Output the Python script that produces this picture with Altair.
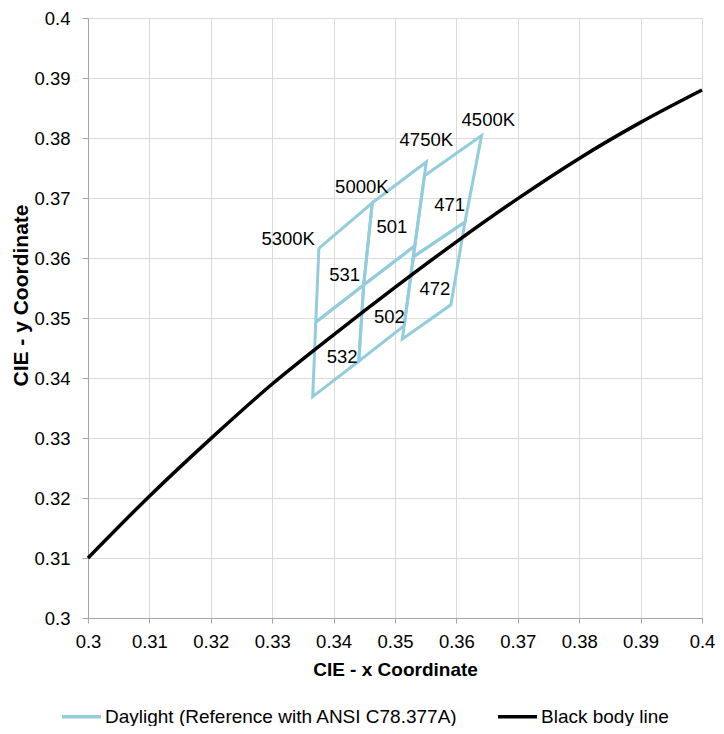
import altair as alt
import pandas as pd

FONT = "Liberation Sans"

# Axis ticks
tick_x = [0.30, 0.31, 0.32, 0.33, 0.34, 0.35, 0.36, 0.37, 0.38, 0.39, 0.40]
tick_y = [0.30, 0.31, 0.32, 0.33, 0.34, 0.35, 0.36, 0.37, 0.38, 0.39, 0.40]

# Series names
series_daylight = "Daylight (Reference with ANSI C78.377A)"
series_bb = "Black body line"

# Black body line
bb_x = [0.300, 0.310, 0.320, 0.330, 0.340, 0.350, 0.360, 0.370, 0.380, 0.390, 0.400]
bb_y = [0.3100, 0.3203, 0.3299, 0.3390, 0.3472, 0.3551, 0.3627, 0.3699, 0.3766, 0.3826, 0.3880]

# ANSI sub-bin quadrangles: corners top-left, top-right, bottom-right, bottom-left
bin_names = ["531", "532", "501", "502", "471", "472"]
bin_x = [
    [0.3376, 0.3463, 0.3449, 0.3371],
    [0.3371, 0.3449, 0.3441, 0.3366],
    [0.3463, 0.3551, 0.3532, 0.3449],
    [0.3449, 0.3532, 0.3515, 0.3441],
    [0.3548, 0.3641, 0.3614, 0.3530],
    [0.3530, 0.3614, 0.3591, 0.3512],
]
bin_y = [
    [0.3616, 0.3692, 0.3555, 0.3493],
    [0.3493, 0.3555, 0.3428, 0.3369],
    [0.3692, 0.3760, 0.3620, 0.3555],
    [0.3555, 0.3620, 0.3487, 0.3428],
    [0.3737, 0.3804, 0.3660, 0.3602],
    [0.3602, 0.3660, 0.3522, 0.3465],
]

# Annotations
label_text = ["4500K", "4750K", "5000K", "5300K", "501", "531", "471", "472", "502", "532"]
label_x = [0.3652, 0.3551, 0.3446, 0.3326, 0.3495, 0.3418, 0.3589, 0.3565, 0.3491, 0.3414]
label_y = [0.3830, 0.3796, 0.3719, 0.3632, 0.3652, 0.3572, 0.3688, 0.3548, 0.3502, 0.3435]

# Build tables
rows = []
for name, xs, ys in zip(bin_names, bin_x, bin_y):
    pts = list(zip(xs, ys)) + [(xs[0], ys[0])]
    for i, (px, py) in enumerate(pts):
        rows.append({"bin": name, "idx": i, "x": px, "y": py, "series": series_daylight})
quads = pd.DataFrame(rows)

bb = pd.DataFrame({"x": bb_x, "y": bb_y, "series": series_bb})
labels = pd.DataFrame({"text": label_text, "x": label_x, "y": label_y})

xscale = alt.Scale(domain=[0.3, 0.4], nice=False, zero=False)
yscale = alt.Scale(domain=[0.3, 0.4], nice=False, zero=False)

x_enc = alt.X(
    "x:Q", scale=xscale,
    axis=alt.Axis(values=tick_x, format="~g", title="CIE - x Coordinate",
                  tickSize=5, labelPadding=9, titleY=57, titleBaseline="alphabetic",
                  titleFontSize=19),
)
y_enc = alt.Y(
    "y:Q", scale=yscale,
    axis=alt.Axis(values=tick_y, format="~g", title="CIE - y Coordinate",
                  tickSize=6, labelPadding=12, titleX=-61, titleY=277,
                  titleAngle=270, titleBaseline="alphabetic", titleFontSize=21),
)

color = alt.Color(
    "series:N",
    scale=alt.Scale(domain=[series_daylight, series_bb], range=["#93CDDD", "#000000"]),
    legend=alt.Legend(title=None, orient="none", legendX=-28, legendY=677,
                      direction="horizontal", symbolType="stroke", symbolSize=1521,
                      symbolStrokeWidth=3.5, labelFontSize=19, labelFont=FONT,
                      labelOffset=2, columnPadding=33, labelLimit=600,
                      labelColor="#000000", padding=0),
)

quad_layer = alt.Chart(quads).mark_line(strokeWidth=3).encode(
    x=x_enc, y=y_enc, color=color, detail="bin:N", order="idx:Q"
)

bb_layer = alt.Chart(bb).mark_line(strokeWidth=3.5, interpolate="monotone").encode(
    x=x_enc, y=y_enc, color=color
)

text_layer = alt.Chart(labels).mark_text(
    font=FONT, fontSize=18.5, color="#000000", align="center", baseline="middle"
).encode(x=alt.X("x:Q", scale=xscale), y=alt.Y("y:Q", scale=yscale), text="text:N")

chart = alt.layer(quad_layer, bb_layer, text_layer).properties(
    width=614, height=600,
    padding={"left": 80, "top": 10, "right": 14, "bottom": 108},
    autosize=alt.AutoSizeParams(type="none"),
).configure_view(stroke="transparent").configure_axis(
    labelFont=FONT, labelFontSize=18.5, labelColor="#000000",
    titleFont=FONT, titleFontWeight="bold", titleColor="#000000",
    domainColor="#a6a6a6", tickColor="#a6a6a6", gridColor="#d9d9d9",
    labelFlush=False, labelOverlap=False,
)

chart.save("out.html", embed_options={"renderer": "svg", "actions": False})
